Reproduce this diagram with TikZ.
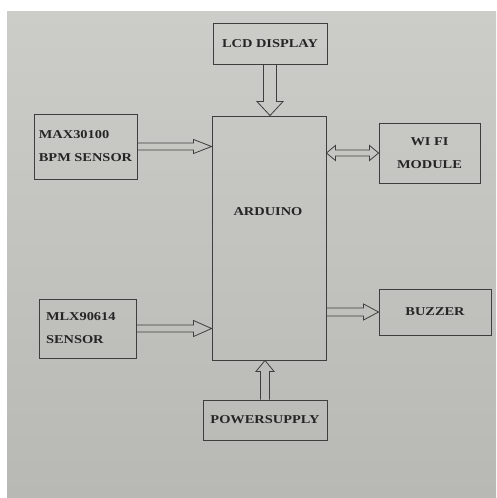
\documentclass[tikz,border=0pt]{standalone}
\usepackage{fontspec}
\setmainfont{Liberation Serif}
\newfontfamily\blockfont[FakeStretch=1.2]{Liberation Serif}
\usetikzlibrary{calc}

\definecolor{paperlight}{RGB}{204,204,200}
\definecolor{paperdark}{RGB}{184,184,180}
\definecolor{ink}{RGB}{62,62,62}

\tikzset{
  blk/.style={draw=ink, line width=0.9pt, inner sep=0pt, text=ink!60!black,
    font=\blockfont\bfseries\fontsize{12}{23}\selectfont},
  txt/.style={inner sep=0pt, text=ink!60!black, font=\blockfont\bfseries\fontsize{12}{23}\selectfont},
  arr/.style={draw=ink, line width=0.8pt, line join=miter},
}

% hollow block arrow: from, to, half shaft, half head, head length
\newcommand{\blockarrow}[5]{%
  \draw[arr] let \p1=($(#2)-(#1)$), \n1={veclen(\x1,\y1)} in
    [shift={(#1)}, rotate={atan2(\y1,\x1)}]
    (0pt,-#3pt) -- ({\n1-#5pt},-#3pt) -- ({\n1-#5pt},-#4pt) -- ({\n1+0pt},0pt)
    -- ({\n1-#5pt},#4pt) -- ({\n1-#5pt},#3pt) -- (0pt,#3pt);}
% same, with a head at both ends
\newcommand{\dblockarrow}[5]{%
  \draw[arr] let \p1=($(#2)-(#1)$), \n1={veclen(\x1,\y1)} in
    [shift={(#1)}, rotate={atan2(\y1,\x1)}]
    (0pt,0pt) -- (#5pt,-#4pt) -- (#5pt,-#3pt) -- ({\n1-#5pt},-#3pt) -- ({\n1-#5pt},-#4pt)
    -- ({\n1+0pt},0pt) -- ({\n1-#5pt},#4pt) -- ({\n1-#5pt},#3pt) -- (#5pt,#3pt) -- (#5pt,#4pt) -- cycle;}

\begin{document}
\begin{tikzpicture}[x=1pt, y=-1pt]
    % page
    \fill[white] (0,0) rectangle (496,498);
    \shade[top color=paperlight, bottom color=paperdark] (7,11) rectangle (496,498);

    \node[blk, minimum width=114pt, minimum height=41pt] (lcd) at (270,43.5) {LCD DISPLAY};
    \node[blk, minimum width=114pt, minimum height=244pt] (ard) at (269,238) {};
    \node[txt] (ardname) at (268,212) {ARDUINO};
    \node[blk, minimum width=103pt, minimum height=65pt, align=left] (max) at (85.5,146.5) {MAX30100\\BPM SENSOR};
    \node[blk, minimum width=101pt, minimum height=60pt, align=center] (wifi) at (429.5,153) {WI FI\\MODULE};
    \node[blk, minimum width=97pt, minimum height=59pt, text width=83pt, align=left] (mlx) at (87.5,328.5) {MLX90614\\SENSOR};
    \node[blk, minimum width=112pt, minimum height=46pt] (buzzer) at (435,312) {BUZZER};
    \node[blk, minimum width=124pt, minimum height=40pt] (power) at (265,420) {POWERSUPPLY};

    \blockarrow{lcd.south}{lcd.south |- ard.north}{6.5}{13}{14}
    \blockarrow{max.east}{max.east -| ard.west}{3.5}{7}{18}
    \dblockarrow{wifi.west -| ard.east}{wifi.west}{3}{7.5}{9}
    \blockarrow{mlx.east}{mlx.east -| ard.west}{3.5}{8}{18}
    \blockarrow{buzzer.west -| ard.east}{buzzer.west}{4}{8}{15}
    \blockarrow{power.north}{power.north |- ard.south}{4.5}{9}{11}
\end{tikzpicture}
\end{document}
